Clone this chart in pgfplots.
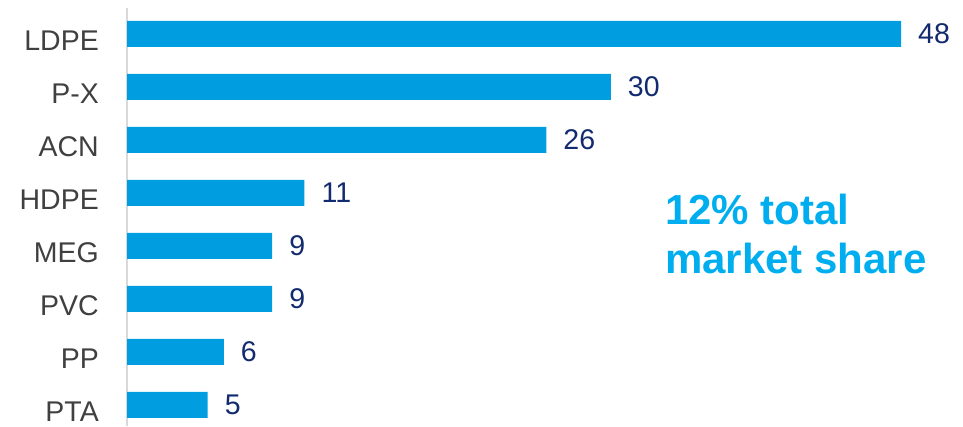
\documentclass[border=0pt]{standalone}
\usepackage{pgfplots}
\pgfplotsset{compat=1.18}
\usepackage{fontspec}
\setmainfont{Liberation Sans}
\definecolor{barblue}{RGB}{0,158,224}
\definecolor{navy}{RGB}{18,42,110}
\definecolor{labgray}{RGB}{64,64,64}
\definecolor{cyantext}{RGB}{0,174,239}
\begin{document}
\begin{tikzpicture}[x=1pt,y=1pt]
\path[use as bounding box] (0,0) rectangle (963,426);
\begin{axis}[
  at={(127pt,0pt)}, anchor=south west,
  scale only axis, width=806.25pt, height=418.17pt,
  xmin=0, xmax=50, ymin=-0.4, ymax=7.49,
  xbar, bar width=26pt, bar shift=0pt,
  axis x line=none, axis y line*=left,
  y axis line style={draw=black!15, line width=1.2pt},
  ytick={0,...,7}, yticklabels={PTA,PP,PVC,MEG,HDPE,ACN,P-X,LDPE},
  major tick length=0pt,
  yticklabel style={font=\fontsize{28.5}{34}\selectfont, text=labgray, anchor=east, inner sep=0pt, xshift=-28pt, yshift=-7pt},
  nodes near coords,
  nodes near coords style={font=\fontsize{28.5}{34}\selectfont, text=navy, anchor=west, inner sep=0pt, xshift=17pt},
  point meta=x,
  /pgf/number format/assume math mode=true,
]
\addplot[fill=barblue, draw=none] coordinates {(5,0) (6,1) (9,2) (9,3) (11,4) (26,5) (30,6) (48,7)};
\end{axis}
\node[anchor=base west, align=left, font=\fontsize{42}{49}\selectfont\bfseries, text=cyantext, inner sep=0pt] at (665,153) {12\% total\\market share};
\end{tikzpicture}
\end{document}
